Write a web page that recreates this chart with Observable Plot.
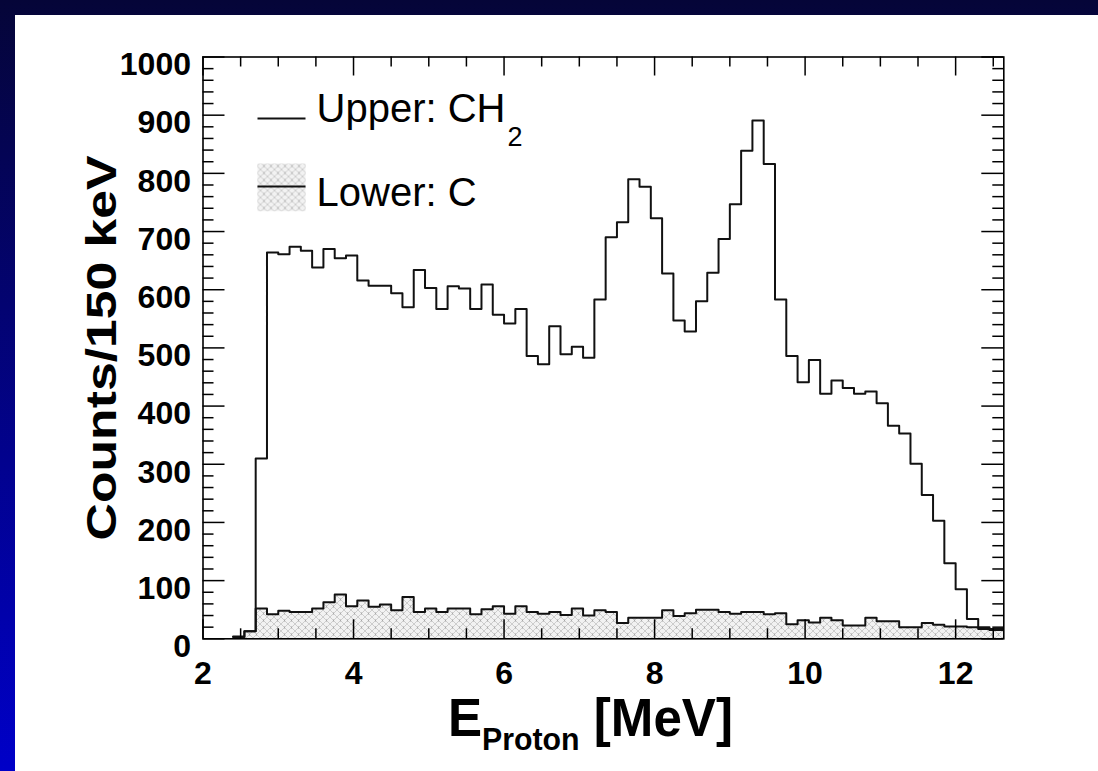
<!DOCTYPE html>
<html><head><meta charset="utf-8">
<script src="https://cdn.jsdelivr.net/npm/d3@7"></script>
<script src="https://cdn.jsdelivr.net/npm/@observablehq/plot@0.6"></script>
<style>
html,body{margin:0;padding:0;}
body{width:1098px;height:771px;overflow:hidden;position:relative;
  background:linear-gradient(to bottom,#050538 0%,#0000c8 100%);}
#panel{position:absolute;left:15px;top:15px;width:1083px;height:756px;background:#fff;}
</style></head>
<body><div id="panel"></div>
<script>
// ---- data (bin low edges in MeV, 150 keV bins; last entry is the closing edge) ----
const binEdges = [2.40,2.55,2.70,2.85,3.00,3.15,3.30,3.45,3.60,3.75,3.90,4.05,4.20,4.35,4.50,4.65,4.80,4.95,
  5.10,5.25,5.40,5.55,5.70,5.85,6.00,6.15,6.30,6.45,6.60,6.75,6.90,7.05,7.20,7.35,7.50,7.65,7.80,7.95,
  8.10,8.25,8.40,8.55,8.70,8.85,9.00,9.15,9.30,9.45,9.60,9.75,9.90,10.05,10.20,10.35,10.50,10.65,10.80,
  10.95,11.10,11.25,11.40,11.55,11.70,11.85,12.00,12.15,12.30,12.45,12.60,12.75];
const upperCH2 = [4,13,310,664,661,674,667,638,670,654,659,616,607,607,594,570,634,603,
  567,606,602,567,609,557,542,567,486,472,537,489,502,483,583,690,716,790,777,723,
  628,547,528,580,629,687,747,839,891,816,583,486,441,479,421,444,431,421,425,
  405,366,353,301,247,203,130,85,34,20,17,17];
const lowerC = [3,13,52,42,48,46,46,52,63,76,56,66,55,59,49,72,46,52,
  46,52,52,42,51,56,43,56,46,43,46,41,52,40,49,46,27,36,36,36,
  49,39,44,50,50,46,43,46,46,42,44,25,32,28,36,32,23,23,36,
  30,30,20,20,27,24,21,21,20,17,15,15];
const xMajor = [2,4,6,8,10,12];
const xTickLabels = ["2","4","6","8","10","12"];
const yMajor = [0,100,200,300,400,500,600,700,800,900,1000];
const yTickLabels = ["0","100","200","300","400","500","600","700","800","900","1000"];
const xMinor = d3.range(2.5, 12.64, 0.5).filter(v => Math.abs(v/2 - Math.round(v/2)) > 1e-6);
const yMinor = d3.range(20, 1000, 20).filter(v => v % 100 !== 0);
const yTitle = ["Counts/150 keV"];
const xTitle = ["E"];
const xTitleSub = "Proton";
const xTitleUnit = " [MeV]";
const legendUpper = ["Upper: CH"];
const legendUpperSub = "2";
const legendLower = ["Lower: C"];

// ---- layout ----
const FONT = '"Liberation Sans", Arial, Helvetica, sans-serif';
const W = 1083, HS = 756;
const mL = 187.5, mR = 94.7, mT = 41.5, mB = 132.7;
const fw = W - mL - mR, fh = HS - mT - mB;

const rows = binEdges.map((e, i) => ({
  e,
  upper: upperCH2[Math.min(i, upperCH2.length - 1)],
  lower: lowerC[Math.min(i, lowerC.length - 1)]
}));

const tickStyle = {stroke: "#000", strokeWidth: 1.5};
const plot = Plot.plot({
  width: W, height: HS,
  marginLeft: mL, marginRight: mR, marginTop: mT, marginBottom: mB,
  style: {fontFamily: FONT, background: "transparent", color: "#000"},
  x: {domain: [2, 12.64], axis: null},
  y: {domain: [0, 1000], axis: null},
  marks: [
    Plot.areaY(rows, {x: "e", y: "lower", curve: "step-after", fill: "url(#hatch)", clip: true}),
    Plot.line(rows, {x: "e", y: "lower", curve: "step-after", stroke: "#111", strokeWidth: 2, clip: true}),
    Plot.line(rows, {x: "e", y: "upper", curve: "step-after", stroke: "#111", strokeWidth: 2, clip: true}),
    // inward ticks on all four sides
    Plot.ruleX(xMajor, {x: d => d, insetTop: fh - 19, ...tickStyle}),
    Plot.ruleX(xMajor, {x: d => d, insetBottom: fh - 19, ...tickStyle}),
    Plot.ruleX(xMinor, {x: d => d, insetTop: fh - 10, ...tickStyle}),
    Plot.ruleX(xMinor, {x: d => d, insetBottom: fh - 10, ...tickStyle}),
    Plot.ruleY(yMajor, {y: d => d, insetRight: fw - 22, ...tickStyle}),
    Plot.ruleY(yMajor, {y: d => d, insetLeft: fw - 22, ...tickStyle}),
    Plot.ruleY(yMinor, {y: d => d, insetRight: fw - 11, ...tickStyle}),
    Plot.ruleY(yMinor, {y: d => d, insetLeft: fw - 11, ...tickStyle}),
    Plot.frame({stroke: "#000", strokeWidth: 1.6}),
    // tick labels
    Plot.text(yMajor, {y: d => d, text: (d, i) => yTickLabels[i], frameAnchor: "left", textAnchor: "end",
      lineAnchor: "middle", dx: -12, dy: 8, fontSize: 32, fontWeight: "bold", fill: "#000"}),
    Plot.text(xMajor, {x: d => d, text: (d, i) => xTickLabels[i], frameAnchor: "bottom", lineAnchor: "top",
      dy: 22, fontSize: 32, fontWeight: "bold", fill: "#000"}),
    // axis titles
    Plot.text(yTitle, {text: d => d, frameAnchor: "left", textAnchor: "middle", lineAnchor: "middle",
      dx: -100, rotate: -90, fontSize: 42, fontWeight: "bold", fill: "#000"}),
    Plot.text(xTitle, {text: d => d, frameAnchor: "bottom", textAnchor: "middle", lineAnchor: "middle",
      dx: -13, dy: 80, fontSize: 54, fontWeight: "bold", fill: "#000"}),
    // legend
    Plot.frame({fill: "#111", stroke: null, insetLeft: 54.5, insetRight: fw - 102.5, insetTop: 60.5, insetBottom: fh - 62.5}),
    Plot.frame({fill: "url(#hatch)", stroke: null, insetLeft: 54.5, insetRight: fw - 102.5, insetTop: 106.5, insetBottom: fh - 154.2}),
    Plot.frame({fill: "#111", stroke: null, insetLeft: 54.5, insetRight: fw - 102.5, insetTop: 128.5, insetBottom: fh - 130.5}),
    Plot.text(legendUpper, {text: d => d, frameAnchor: "top-left", textAnchor: "start", lineAnchor: "middle",
      dx: 113.5, dy: 52.5, fontSize: 40, fill: "#000"}),
    Plot.text(legendLower, {text: d => d, frameAnchor: "top-left", textAnchor: "start", lineAnchor: "middle",
      dx: 113.5, dy: 135.7, fontSize: 40, fill: "#000"})
  ]
});
document.getElementById("panel").append(plot);

const svg = d3.select(plot);
// pattern definition for the hatched (carbon) histogram
const defs = svg.insert("defs", ":first-child");
const pat = defs.append("pattern").attr("id", "hatch").attr("patternUnits", "userSpaceOnUse")
  .attr("width", 7).attr("height", 7);
pat.append("rect").attr("width", 7).attr("height", 7).attr("fill", "#f2f2f2");
pat.append("path").attr("d", "M0,0L7,7M7,0L0,7").attr("stroke", "#bdbdbd").attr("stroke-width", 0.7).attr("fill", "none");
pat.append("rect").attr("x", 3).attr("y", 2.5).attr("width", 1).attr("height", 2).attr("fill", "#a8a8a8");

const findText = s => svg.selectAll("text").filter(function() { return this.textContent === s; });
// x title with subscript
const xt = findText(xTitle[0]);
xt.text(null);
xt.append("tspan").text(xTitle[0]);
xt.append("tspan").attr("font-size", 32).attr("dy", 14).text(xTitleSub);
xt.append("tspan").attr("dy", -14).text(xTitleUnit);
xt.attr("textLength", 285).attr("lengthAdjust", "spacingAndGlyphs");
// y title stretched along its length like the reference
findText(yTitle[0]).attr("textLength", 385).attr("lengthAdjust", "spacingAndGlyphs");
// legend subscript (dropped well below the baseline, as in the reference)
findText(legendUpper[0]).append("tspan").attr("font-size", 27).attr("dx", 2).attr("dy", 24).text(legendUpperSub);
</script>
</body></html>
